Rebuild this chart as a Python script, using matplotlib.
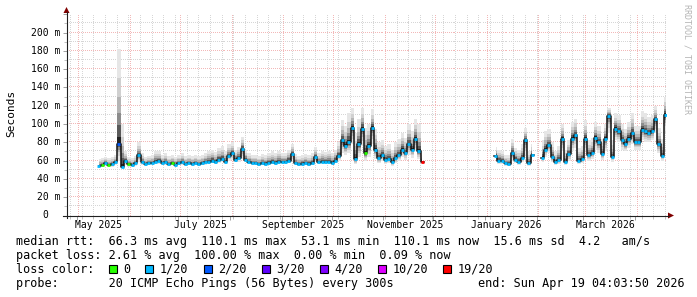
import numpy as np
import pandas as pd
import matplotlib
matplotlib.use('Agg')
import matplotlib.pyplot as plt
import matplotlib.dates as mdates
import matplotlib.ticker as mticker
import matplotlib.transforms as mtransforms
from matplotlib.patches import Rectangle, Polygon
from matplotlib.lines import Line2D

nan = np.nan

# smokeping data, one consolidated value every 2 days (ms)
sample_start = '2025-05-14 08:00'
median_ms = [
    54, 55, 57, 55, 56, 58, 78, 53, 60, 56,
    55, 57, 66, 58, 56, 57, 57, 59, 60, 57,
    58, 56, 57, 55, 57, 58, 56, 57, 56, 57,
    56, 57, 58, 59, 60, 58, 61, 62, 59, 65,
    68, 61, 63, 73, 61, 58, 57, 57, 56, 57,
    56, 57, 58, 57, 59, 58, 58, 60, 67, 57,
    56, 56, 57, 56, 57, 64, 58, 59, 58, 59,
    57, 60, 65, 82, 76, 80, 96, 62, 78, 95,
    68, 76, 96, 72, 63, 66, 61, 62, 58, 63,
    66, 72, 68, 78, 72, 84, 70, 59,
    nan, nan, nan, nan, nan, nan, nan, nan, nan, nan, nan,
    nan, nan, nan, nan, nan, nan, nan, nan, nan, nan,
    65, 60, 60, 57, 56, 68, 61, 59, 63, 82, 57, 66,
    nan, nan,
    63, 72, 77, 64, 58, 61, 84, 59, 67, 84,
    88, 60, 62, 84, 66, 68, 85, 80, 67, 84,
    109, 64, 95, 92, 82, 78, 84, 90, 80, 80,
    94, 92, 90, 92, 105, 78, 65, 110,
]
ping_high_ms = [
    62, 63, 64, 63, 64, 66, 182, 100, 70, 64,
    63, 65, 80, 68, 64, 65, 66, 70, 70, 66,
    68, 65, 66, 64, 66, 68, 65, 66, 65, 66,
    65, 66, 68, 70, 72, 69, 74, 76, 70, 78,
    80, 72, 75, 86, 72, 68, 66, 66, 65, 67,
    66, 68, 70, 68, 70, 68, 68, 72, 78, 67,
    65, 66, 67, 66, 68, 75, 68, 70, 69, 70,
    68, 72, 80, 104, 98, 112, 118, 90, 105, 118,
    96, 100, 116, 95, 80, 82, 76, 78, 72, 80,
    84, 90, 85, 100, 92, 106, 100, 66,
    nan, nan, nan, nan, nan, nan, nan, nan, nan, nan, nan,
    nan, nan, nan, nan, nan, nan, nan, nan, nan, nan,
    75, 72, 70, 66, 66, 84, 74, 72, 78, 96, 70, 78,
    nan, nan,
    82, 92, 95, 80, 70, 76, 100, 72, 82, 102,
    106, 74, 76, 104, 82, 85, 102, 98, 84, 100,
    118, 82, 112, 110, 100, 95, 102, 112, 98, 98,
    114, 112, 108, 110, 120, 96, 84, 130,
]
ping_low_ms = [
    52, 53, 54, 53, 53, 55, 60, 51, 55, 53,
    53, 54, 58, 55, 54, 55, 55, 56, 56, 55,
    55, 54, 55, 53, 55, 55, 54, 55, 54, 55,
    54, 55, 55, 56, 57, 56, 57, 58, 56, 60,
    61, 58, 59, 62, 58, 56, 55, 55, 54, 55,
    54, 55, 56, 55, 56, 56, 56, 57, 60, 55,
    54, 54, 55, 54, 55, 58, 56, 56, 56, 56,
    55, 57, 60, 68, 66, 68, 78, 56, 64, 76,
    60, 64, 78, 62, 57, 60, 56, 57, 54, 57,
    60, 64, 61, 66, 63, 70, 62, 56,
    nan, nan, nan, nan, nan, nan, nan, nan, nan, nan, nan,
    nan, nan, nan, nan, nan, nan, nan, nan, nan, nan,
    60, 56, 56, 54, 54, 60, 57, 55, 58, 66, 54, 58,
    nan, nan,
    58, 64, 68, 58, 55, 56, 70, 55, 60, 70,
    74, 56, 57, 70, 60, 62, 72, 68, 61, 70,
    90, 59, 82, 80, 72, 70, 74, 78, 72, 72,
    82, 80, 80, 82, 90, 68, 60, 92,
]
# lost pings (of 20) where it differs from the usual 1/20
loss_events = {
    '2025-05-16': 0, '2025-05-20': 0, '2025-05-26': 2, '2025-06-01': 0,
    '2025-06-27': 0, '2025-10-21': 0, '2025-11-24': 19,
}

graph_start = '2025-04-24 22:00'
graph_end = '2026-04-19 22:00'
month_labels = ['2025-05-01', '2025-07-01', '2025-09-01', '2025-11-01',
                '2026-01-01', '2026-03-01']
y_ticks = [0, 20, 40, 60, 80, 100, 120, 140, 160, 180, 200]

loss_levels = [0, 1, 2, 3, 4, 10, 19]
loss_names = ['0', '1/20', '2/20', '3/20', '4/20', '10/20', '19/20']
loss_hex = ['#26ff00', '#00b8ff', '#0059ff', '#5e00ff', '#7e00ff', '#dd00ff', '#ff0000']

stats_rtt = "median rtt:  66.3 ms avg  110.1 ms max  53.1 ms min  110.1 ms now  15.6 ms sd  4.2   am/s"
stats_loss = "packet loss: 2.61 % avg  100.00 % max  0.00 % min  0.09 % now"
probe_text = "probe:       20 ICMP Echo Pings (56 Bytes) every 300s"
end_text = "end: Sun Apr 19 04:03:50 2026"

mono = 'DejaVu Sans Mono'
W, H = 697, 297
grid_grey = '#d6d6d6'
grid_red = '#f2b8b8'


def fx(x):
    return x / W


def fy(y):
    return 1 - y / H


fig = plt.figure(figsize=(W / 100, H / 100), dpi=100)
fig.patch.set_facecolor('white')
ax = fig.add_axes([fx(66.5), fy(215.5), 600 / W, 202 / H])

dates = pd.date_range(sample_start, periods=len(median_ms), freq='2D')
med = np.array(median_ms, float)
hi = np.array(ping_high_ms, float)
lo = np.array(ping_low_ms, float)

lost = pd.Series(1, index=dates.normalize())
for d, n in loss_events.items():
    lost[pd.Timestamp(d)] = n
med_cols = [loss_hex[max(i for i, l in enumerate(loss_levels) if l <= n)] for n in lost]

ax.set_xlim(pd.Timestamp(graph_start), pd.Timestamp(graph_end))
ax.set_ylim(0, 220.8)

# dotted rrdtool grid, one dot every other pixel
hx = np.arange(0, 600, 2) / 600
vy = np.arange(0, 202, 2) / 202
htr = mtransforms.blended_transform_factory(ax.transAxes, ax.transData)
for v in range(10, 221, 10):
    ax.plot(hx, np.full_like(hx, v), ',', color=grid_red if v % 20 == 0 else grid_grey,
            transform=htr, zorder=1)
month_starts = pd.date_range(graph_start, graph_end, freq='MS')
week_starts = pd.date_range(graph_start, graph_end, freq='W-SUN').normalize()
for t in week_starts:
    if t not in month_starts:
        ax.plot(np.full_like(vy, mdates.date2num(t)), vy, ',', color=grid_grey,
                transform=ax.get_xaxis_transform(), zorder=1)
for t in month_starts:
    ax.plot(np.full_like(vy, mdates.date2num(t)), vy, ',', color=grid_red,
            transform=ax.get_xaxis_transform(), zorder=1)

# smoke: outer light grey down to dark core round the median
shades = [(1.0, '#e6e6e6'), (0.7, '#d0d0d0'), (0.5, '#b4b4b4'),
          (0.33, '#8c8c8c'), (0.2, '#5a5a5a'), (0.08, '#222222')]
for f, c in shades:
    ax.fill_between(dates, med - f * (med - lo), med + f * (hi - med),
                    step='mid', color=c, lw=0, zorder=2)

ax.plot(dates, med, drawstyle='steps-mid', color='#111111', lw=1.1, zorder=3)
ax.hlines(med, dates - pd.Timedelta(hours=22), dates + pd.Timedelta(hours=22),
          colors=med_cols, lw=2.0, zorder=4)

ax.xaxis.set_major_locator(mdates.MonthLocator())
ax.xaxis.set_minor_locator(mdates.WeekdayLocator(byweekday=mdates.SU))
ax.yaxis.set_major_locator(mticker.MultipleLocator(20))
ax.yaxis.set_minor_locator(mticker.MultipleLocator(10))
ax.tick_params(labelbottom=False, labelleft=False)
ax.tick_params(which='major', direction='out', length=3, width=0.7, color='#a0a0a0')
ax.tick_params(which='minor', direction='out', length=2, width=0.7, color='#c0c0c0')
for s in ax.spines.values():
    s.set_visible(False)

# axes with arrows
fig.add_artist(Line2D([fx(66.5), fx(66.5)], [fy(218), fy(12)], color='#202020', lw=0.8))
fig.add_artist(Line2D([fx(63), fx(669)], [fy(215.5), fy(215.5)], color='#202020', lw=0.8))
fig.add_artist(Polygon([(fx(63.5), fy(13)), (fx(69.5), fy(13)), (fx(66.5), fy(7))],
                       closed=True, color='#800000', lw=0))
fig.add_artist(Polygon([(fx(668), fy(212.5)), (fx(668), fy(218.5)), (fx(674), fy(215.5))],
                       closed=True, color='#800000', lw=0))

# y labels
ytr = mtransforms.blended_transform_factory(fig.transFigure, ax.transData)
for v in y_ticks:
    if v == 0:
        ax.text(fx(48.5), v, '0', transform=ytr, ha='right', va='center',
                fontsize=7, family=mono)
    else:
        ax.text(fx(60.5), v, f'{v} m', transform=ytr, ha='right', va='center',
                fontsize=7, family=mono)

# month labels, centred in the middle of the month
for m in month_labels:
    t = pd.Timestamp(m)
    ax.text(mdates.date2num(t + pd.Timedelta(days=13)), -13 / 202, t.strftime('%B %Y'),
            transform=ax.get_xaxis_transform(), ha='center', va='baseline',
            fontsize=7, family=mono)

fig.text(fx(11), fy(113.5), 'Seconds', rotation=90, ha='center', va='center',
         fontsize=8, family=mono)
fig.text(fx(687), fy(4), 'RRDTOOL / TOBI OETIKER', rotation=270, ha='center', va='top',
         fontsize=6, family=mono, color='#b4b4b4')

# legend
fs = 8.5
fig.text(fx(16), fy(244.7), stats_rtt, fontsize=fs, family=mono, va='baseline')
fig.text(fx(16), fy(258.7), stats_loss, fontsize=fs, family=mono, va='baseline')
fig.text(fx(16), fy(272.6), 'loss color:', fontsize=fs, family=mono, va='baseline')
fig.text(fx(16), fy(286.6), probe_text, fontsize=fs, family=mono, va='baseline')
fig.text(fx(478), fy(286.6), end_text, fontsize=fs, family=mono, va='baseline')

bx = 108.7
for name, col in zip(loss_names, loss_hex):
    fig.add_artist(Rectangle((fx(bx), fy(273.3)), 8 / W, 8.3 / H, facecolor=col,
                             edgecolor='black', lw=0.8))
    fig.text(fx(bx + 14.5), fy(272.6), name, fontsize=fs, family=mono, va='baseline')
    bx += 29.6 + len(name) * 7.12

fig.savefig('out.png', dpi=100, facecolor='white')
